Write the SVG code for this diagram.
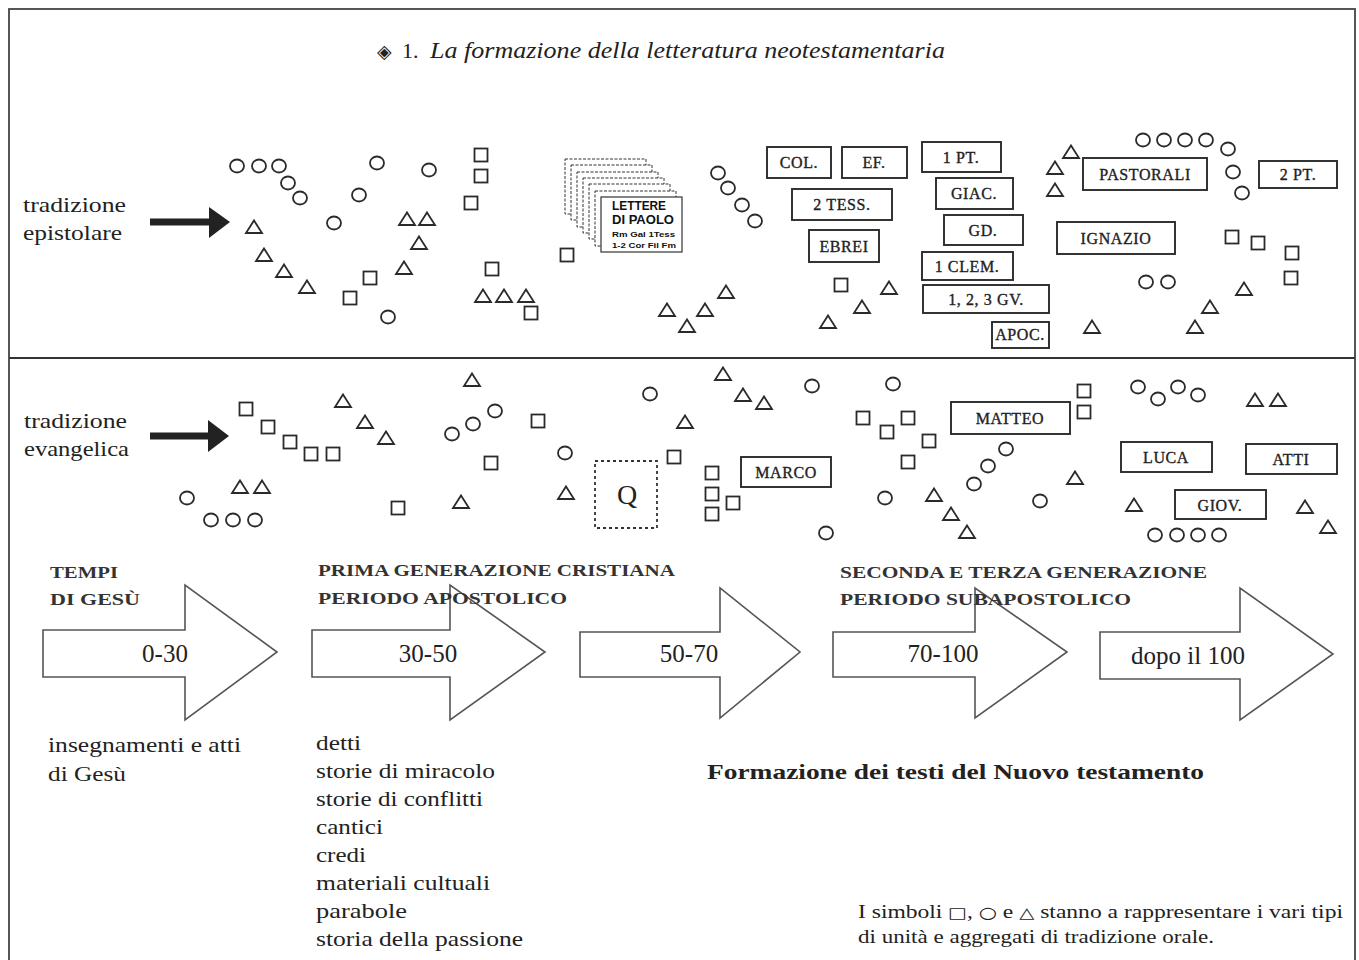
<svg xmlns="http://www.w3.org/2000/svg" xmlns:xlink="http://www.w3.org/1999/xlink" width="1359" height="960" viewBox="0 0 1359 960">
<style>
.sym{fill:none;stroke:#2a2a2a;stroke-width:1.8}
.box{fill:#fff;stroke:#2a2a2a;stroke-width:1.9}
.card{fill:#fff;stroke:#333;stroke-width:1;stroke-dasharray:3 1.5}
.blab{font-family:"Liberation Serif",serif;font-size:16px;fill:#222;stroke:#222;stroke-width:0.35;text-anchor:middle;letter-spacing:0.6px}
.ser{font-family:"Liberation Serif",serif;fill:#222}
.lbl{font-size:22px}
.cap{font-size:17px;font-weight:bold;fill:#333}
.big{font-size:25px;text-anchor:middle}
.tl{fill:none;stroke:#555;stroke-width:1.6;stroke-linejoin:miter}
.pa{font-family:"Liberation Sans",sans-serif;font-weight:bold;fill:#111}
</style>
<defs>
<ellipse id="c" class="sym" cx="0" cy="0" rx="7" ry="6.5"/>
<rect id="s" class="sym" x="-6.5" y="-6.5" width="13" height="13"/>
<path id="t" class="sym" d="M0,-6.5 L8,6 L-8,6 Z"/>
</defs>
<rect width="1359" height="960" fill="#fff"/>
<g id="frame">
<rect x="9" y="9" width="1346" height="980" fill="none" stroke="#444" stroke-width="1.8"/>
<line x1="9" y1="358" x2="1355" y2="358" stroke="#333" stroke-width="2.2"/>
</g>
<g id="title">
<text x="377" y="58" font-family="DejaVu Sans,sans-serif" font-size="19" fill="#222">◈</text>
<text x="402" y="58" class="ser" font-size="22">1.</text>
<text x="430" y="58" class="ser" font-size="24" font-style="italic" textLength="515" lengthAdjust="spacingAndGlyphs">La formazione della letteratura neotestamentaria</text>
</g>
<g id="label-epistolare">
<text x="23" y="212" class="ser lbl" textLength="103" lengthAdjust="spacingAndGlyphs">tradizione</text>
<text x="23" y="240" class="ser lbl" textLength="99" lengthAdjust="spacingAndGlyphs">epistolare</text>
</g>
<g id="label-evangelica">
<text x="24" y="428" class="ser lbl" textLength="103" lengthAdjust="spacingAndGlyphs">tradizione</text>
<text x="24" y="456" class="ser lbl" textLength="105" lengthAdjust="spacingAndGlyphs">evangelica</text>
</g>
<g id="connectors">
<path d="M150,218.5 L212,218.5 L212,225.5 L150,225.5 Z" fill="#222"/>
<path d="M209,207 L230,222 L209,238 Z" fill="#222"/>
<path d="M150,432.5 L212,432.5 L212,439.5 L150,439.5 Z" fill="#222"/>
<path d="M208,420 L229,436 L208,452 Z" fill="#222"/>
</g>
<g id="symbols-epistolare">
<use href="#c" x="237" y="166"/><use href="#c" x="259" y="166"/><use href="#c" x="279" y="166"/><use href="#c" x="288" y="183"/><use href="#c" x="300" y="198"/><use href="#c" x="377" y="163"/><use href="#c" x="429" y="170"/><use href="#c" x="359" y="195"/><use href="#c" x="334" y="223"/><use href="#c" x="388" y="317"/><use href="#c" x="718" y="173"/><use href="#c" x="728" y="188"/><use href="#c" x="742" y="205"/><use href="#c" x="755" y="221"/><use href="#c" x="1143" y="140"/><use href="#c" x="1164" y="140"/><use href="#c" x="1185" y="140"/><use href="#c" x="1206" y="140"/><use href="#c" x="1228" y="149"/><use href="#c" x="1233" y="172"/><use href="#c" x="1242" y="193"/><use href="#c" x="1146" y="282"/><use href="#c" x="1168" y="282"/>
<use href="#s" x="481" y="155"/><use href="#s" x="481" y="176"/><use href="#s" x="471" y="203"/><use href="#s" x="492" y="269"/><use href="#s" x="531" y="313"/><use href="#s" x="370" y="278"/><use href="#s" x="350" y="298"/><use href="#s" x="567" y="255"/><use href="#s" x="841" y="285"/><use href="#s" x="1232" y="237"/><use href="#s" x="1258" y="243"/><use href="#s" x="1292" y="253"/><use href="#s" x="1291" y="278"/>
<use href="#t" x="254" y="227"/><use href="#t" x="264" y="255"/><use href="#t" x="284" y="271"/><use href="#t" x="307" y="287"/><use href="#t" x="407" y="219"/><use href="#t" x="427" y="219"/><use href="#t" x="419" y="243"/><use href="#t" x="404" y="268"/><use href="#t" x="483" y="296"/><use href="#t" x="504" y="296"/><use href="#t" x="526" y="296"/><use href="#t" x="667" y="310"/><use href="#t" x="687" y="326"/><use href="#t" x="705" y="310"/><use href="#t" x="726" y="292"/><use href="#t" x="889" y="288"/><use href="#t" x="862" y="307"/><use href="#t" x="828" y="322"/><use href="#t" x="1071" y="152"/><use href="#t" x="1055" y="168"/><use href="#t" x="1055" y="190"/><use href="#t" x="1244" y="289"/><use href="#t" x="1210" y="307"/><use href="#t" x="1195" y="327"/><use href="#t" x="1092" y="327"/>
</g>
<g id="lettere-di-paolo">
<rect class="card" x="565" y="159" width="81" height="55"/>
<rect class="card" x="571" y="165" width="81" height="55"/>
<rect class="card" x="577" y="172" width="81" height="55"/>
<rect class="card" x="583" y="178" width="81" height="55"/>
<rect class="card" x="589" y="184" width="81" height="55"/>
<rect class="card" x="595" y="191" width="81" height="55"/>
<rect x="601" y="197" width="81" height="55" fill="#fff" stroke="#333" stroke-width="1.2"/>
<text x="612" y="210" class="pa" font-size="12" textLength="54" lengthAdjust="spacingAndGlyphs">LETTERE</text>
<text x="612" y="224" class="pa" font-size="12" textLength="62" lengthAdjust="spacingAndGlyphs">DI PAOLO</text>
<text x="612" y="237" class="pa" font-size="8" textLength="63" lengthAdjust="spacingAndGlyphs">Rm Gal 1Tess</text>
<text x="612" y="248" class="pa" font-size="8" textLength="64" lengthAdjust="spacingAndGlyphs">1-2 Cor Fil Fm</text>
</g>
<g id="col"><rect class="box" x="767" y="147" width="64" height="31"/><text class="blab" x="799" y="168">COL.</text></g>
<g id="ef"><rect class="box" x="842" y="147" width="65" height="31"/><text class="blab" x="874" y="168">EF.</text></g>
<g id="pt1"><rect class="box" x="922" y="142" width="79" height="30"/><text class="blab" x="961" y="163">1 PT.</text></g>
<g id="giac"><rect class="box" x="936" y="178" width="77" height="31"/><text class="blab" x="974" y="199">GIAC.</text></g>
<g id="tess2"><rect class="box" x="792" y="189" width="100" height="31"/><text class="blab" x="842" y="210">2 TESS.</text></g>
<g id="ebrei"><rect class="box" x="809" y="230" width="70" height="32"/><text class="blab" x="844" y="252">EBREI</text></g>
<g id="gd"><rect class="box" x="944" y="215" width="79" height="30"/><text class="blab" x="983" y="236">GD.</text></g>
<g id="clem"><rect class="box" x="922" y="252" width="91" height="28"/><text class="blab" x="967" y="272">1 CLEM.</text></g>
<g id="gv"><rect class="box" x="923" y="285" width="126" height="28"/><text class="blab" x="986" y="305">1, 2, 3 GV.</text></g>
<g id="apoc"><rect class="box" x="992" y="322" width="57" height="26"/><text class="blab" x="1020" y="340" font-size="13" letter-spacing="0">APOC.</text></g>
<g id="pastorali"><rect class="box" x="1083" y="158" width="124" height="32"/><text class="blab" x="1145" y="180">PASTORALI</text></g>
<g id="pt2"><rect class="box" x="1259" y="161" width="78" height="27"/><text class="blab" x="1298" y="180">2 PT.</text></g>
<g id="ignazio"><rect class="box" x="1057" y="222" width="118" height="32"/><text class="blab" x="1116" y="244">IGNAZIO</text></g>
<g id="symbols-evangelica">
<use href="#s" x="246" y="409"/><use href="#s" x="268" y="427"/><use href="#s" x="290" y="442"/><use href="#s" x="311" y="454"/><use href="#s" x="333" y="454"/><use href="#s" x="398" y="508"/><use href="#s" x="491" y="463"/><use href="#s" x="538" y="421"/><use href="#s" x="674" y="457"/><use href="#s" x="712" y="473"/><use href="#s" x="712" y="494"/><use href="#s" x="733" y="503"/><use href="#s" x="712" y="514"/><use href="#s" x="863" y="418"/><use href="#s" x="887" y="432"/><use href="#s" x="908" y="418"/><use href="#s" x="929" y="441"/><use href="#s" x="908" y="462"/><use href="#s" x="1084" y="391"/><use href="#s" x="1084" y="412"/>
<use href="#t" x="343" y="401"/><use href="#t" x="365" y="422"/><use href="#t" x="386" y="438"/><use href="#t" x="472" y="380"/><use href="#t" x="240" y="487"/><use href="#t" x="262" y="487"/><use href="#t" x="461" y="502"/><use href="#t" x="566" y="493"/><use href="#t" x="723" y="374"/><use href="#t" x="743" y="395"/><use href="#t" x="764" y="403"/><use href="#t" x="685" y="422"/><use href="#t" x="934" y="495"/><use href="#t" x="951" y="514"/><use href="#t" x="967" y="532"/><use href="#t" x="1075" y="478"/><use href="#t" x="1255" y="400"/><use href="#t" x="1278" y="400"/><use href="#t" x="1134" y="505"/><use href="#t" x="1305" y="507"/><use href="#t" x="1328" y="527"/>
<use href="#c" x="452" y="434"/><use href="#c" x="473" y="424"/><use href="#c" x="495" y="411"/><use href="#c" x="187" y="498"/><use href="#c" x="211" y="520"/><use href="#c" x="233" y="520"/><use href="#c" x="255" y="520"/><use href="#c" x="565" y="453"/><use href="#c" x="650" y="394"/><use href="#c" x="812" y="386"/><use href="#c" x="826" y="533"/><use href="#c" x="893" y="384"/><use href="#c" x="885" y="498"/><use href="#c" x="1006" y="449"/><use href="#c" x="988" y="466"/><use href="#c" x="974" y="484"/><use href="#c" x="1040" y="501"/><use href="#c" x="1138" y="387"/><use href="#c" x="1158" y="399"/><use href="#c" x="1178" y="387"/><use href="#c" x="1198" y="395"/><use href="#c" x="1155" y="535"/><use href="#c" x="1177" y="535"/><use href="#c" x="1198" y="535"/><use href="#c" x="1219" y="535"/>
</g>
<g id="q"><rect x="595" y="461" width="62" height="67" fill="none" stroke="#333" stroke-width="1.8" stroke-dasharray="3 3"/><text class="ser" x="627" y="504" font-size="28" text-anchor="middle">Q</text></g>
<g id="marco"><rect class="box" x="741" y="457" width="90" height="30"/><text class="blab" x="786" y="478">MARCO</text></g>
<g id="matteo"><rect class="box" x="951" y="402" width="119" height="32"/><text class="blab" x="1010" y="424">MATTEO</text></g>
<g id="luca"><rect class="box" x="1121" y="442" width="91" height="30"/><text class="blab" x="1166" y="463">LUCA</text></g>
<g id="atti"><rect class="box" x="1246" y="444" width="91" height="30"/><text class="blab" x="1291" y="465">ATTI</text></g>
<g id="giov"><rect class="box" x="1175" y="490" width="91" height="29"/><text class="blab" x="1220" y="511">GIOV.</text></g>
<g id="arrow-0-30"><path class="tl" d="M43,630 L185,630 L185,585 L277,652 L185,720 L185,677 L43,677 Z"/><text class="ser big" x="165" y="662">0-30</text></g>
<g id="arrow-30-50"><path class="tl" d="M312,630 L450,630 L450,585 L545,652 L450,720 L450,677 L312,677 Z"/><text class="ser big" x="428" y="662">30-50</text></g>
<g id="arrow-50-70"><path class="tl" d="M580,632 L720,632 L720,588 L800,652 L720,718 L720,677 L580,677 Z"/><text class="ser big" x="689" y="662">50-70</text></g>
<g id="arrow-70-100"><path class="tl" d="M833,632 L975,632 L975,588 L1067,652 L975,718 L975,677 L833,677 Z"/><text class="ser big" x="943" y="662">70-100</text></g>
<g id="arrow-dopo-100"><path class="tl" d="M1100,632 L1240,632 L1240,588 L1333,654 L1240,720 L1240,679 L1100,679 Z"/><text class="ser big" x="1188" y="664">dopo il 100</text></g>
<g id="period-headings">
<text class="ser cap" x="50" y="578" textLength="68" lengthAdjust="spacingAndGlyphs">TEMPI</text>
<text class="ser cap" x="50" y="605" textLength="90" lengthAdjust="spacingAndGlyphs">DI GESÙ</text>
<text class="ser cap" x="318" y="576" textLength="357" lengthAdjust="spacingAndGlyphs">PRIMA GENERAZIONE CRISTIANA</text>
<text class="ser cap" x="318" y="604" textLength="249" lengthAdjust="spacingAndGlyphs">PERIODO APOSTOLICO</text>
<text class="ser cap" x="840" y="578" textLength="367" lengthAdjust="spacingAndGlyphs">SECONDA E TERZA GENERAZIONE</text>
<text class="ser cap" x="840" y="605" textLength="291" lengthAdjust="spacingAndGlyphs">PERIODO SUBAPOSTOLICO</text>
</g>
<g id="text-gesu">
<text class="ser lbl" x="48" y="752" textLength="193" lengthAdjust="spacingAndGlyphs">insegnamenti e atti</text>
<text class="ser lbl" x="48" y="781" textLength="78" lengthAdjust="spacingAndGlyphs">di Gesù</text>
</g>
<g id="text-forme">
<text class="ser lbl" x="316" y="750" textLength="45" lengthAdjust="spacingAndGlyphs">detti</text>
<text class="ser lbl" x="316" y="778" textLength="179" lengthAdjust="spacingAndGlyphs">storie di miracolo</text>
<text class="ser lbl" x="316" y="806" textLength="167" lengthAdjust="spacingAndGlyphs">storie di conflitti</text>
<text class="ser lbl" x="316" y="834" textLength="67" lengthAdjust="spacingAndGlyphs">cantici</text>
<text class="ser lbl" x="316" y="862" textLength="50" lengthAdjust="spacingAndGlyphs">credi</text>
<text class="ser lbl" x="316" y="890" textLength="174" lengthAdjust="spacingAndGlyphs">materiali cultuali</text>
<text class="ser lbl" x="316" y="918" textLength="91" lengthAdjust="spacingAndGlyphs">parabole</text>
<text class="ser lbl" x="316" y="946" textLength="207" lengthAdjust="spacingAndGlyphs">storia della passione</text>
</g>
<g id="text-formazione">
<text class="ser" x="707" y="779" font-size="21" font-weight="bold" textLength="497" lengthAdjust="spacingAndGlyphs">Formazione dei testi del Nuovo testamento</text>
</g>
<g id="legend">
<text class="ser" x="858" y="918" font-size="18" textLength="485" lengthAdjust="spacingAndGlyphs">I simboli <tspan font-family="DejaVu Sans,sans-serif" font-size="15">□</tspan>, <tspan font-family="DejaVu Sans,sans-serif" font-size="16">○</tspan> e <tspan font-family="DejaVu Sans,sans-serif" font-size="15">△</tspan> stanno a rappresentare i vari tipi</text>
<text class="ser" x="858" y="943" font-size="18" textLength="356" lengthAdjust="spacingAndGlyphs">di unità e aggregati di tradizione orale.</text>
</g>
</svg>
